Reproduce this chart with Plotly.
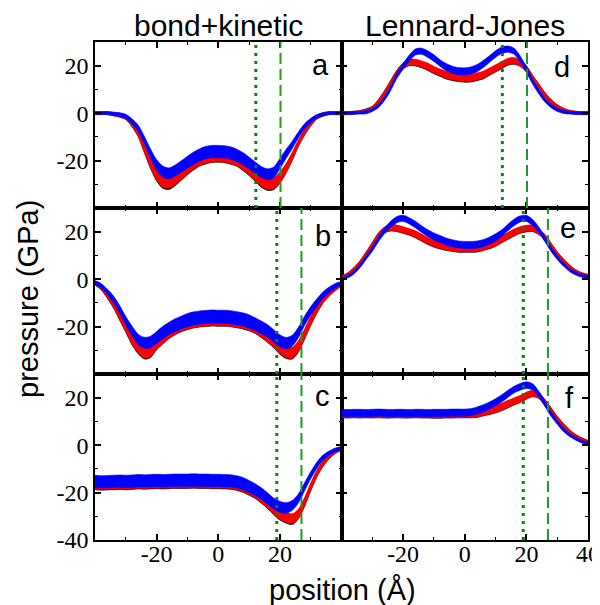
import plotly.graph_objects as go
from plotly.subplots import make_subplots

# position grid (Å)
X = [-40, -38, -36, -34, -32, -30, -28, -26, -24, -22, -20, -18, -16, -14, -12, -10, -8, -6, -4, -2,
     0, 2, 4, 6, 8, 10, 12, 14, 16, 18, 20, 22, 24, 26, 28, 30, 32, 34, 36, 38, 40]

# ---- panel a (bond+kinetic, row 1) ----
A_BLACK = [0, 0, 0, -0.4, -0.9, -1.8, -4.6, -8.6, -15.0, -21.4, -26.4, -29.4, -29.9, -28.3, -25.9, -23.5, -21.4, -19.7, -18.8, -18.2,
           -18.1, -18.3, -18.9, -19.8, -21.6, -23.8, -26.4, -29.0, -30.3, -30.0, -27.4, -23.4, -18.4, -12.8, -8.2, -4.5, -1.7, -0.5, 0, 0, 0]
A_RED = [0, 0, 0, -0.4, -0.9, -1.7, -4.5, -8.5, -14.8, -21.1, -26.0, -28.9, -29.3, -27.9, -25.6, -23.2, -21.1, -19.4, -18.6, -18.0,
         -17.9, -18.1, -18.7, -19.6, -21.3, -23.5, -26.0, -28.5, -29.8, -29.5, -27.0, -23.2, -18.3, -12.7, -8.2, -4.5, -1.7, -0.5, 0, 0, 0]
A_BLUE = [0, 0, 0, -0.3, -0.6, -1.4, -3.5, -6.3, -11.3, -16.9, -21.8, -24.6, -25.4, -24.2, -22.5, -20.7, -19.0, -17.6, -16.6, -16.2,
          -16.2, -16.3, -16.8, -17.8, -19.2, -21.0, -23.0, -24.8, -25.8, -25.0, -21.3, -17.2, -13.4, -9.2, -5.6, -3.1, -1.4, -0.6, 0, 0, 0]
A_NOISE = [0.6, 0.6, 0.6, 0.7, 0.8, 0.9, 1.1, 1.3, 1.6, 1.9, 2.2, 2.3, 2.3, 2.3, 2.4, 2.5, 2.6, 2.6, 2.6, 2.6,
           2.6, 2.6, 2.6, 2.6, 2.6, 2.5, 2.4, 2.3, 2.3, 2.3, 2.2, 1.9, 1.6, 1.3, 1.1, 0.9, 0.8, 0.7, 0.6, 0.6, 0.6]

# ---- panel b (bond+kinetic, row 2) ----
B_BLACK = [-1.7, -3.5, -6.9, -10.8, -15.7, -20.6, -25.7, -29.3, -31.4, -30.7, -27.3, -24.8, -22.5, -20.8, -19.5, -18.5, -17.8, -17.4, -17.2, -17.0,
           -17.1, -17.1, -17.3, -17.7, -18.2, -19.0, -20.2, -22.0, -24.1, -26.3, -29.2, -31.1, -31.4, -28.6, -23.4, -17.8, -12.8, -8.7, -5.9, -3.8, -2.1]
B_RED = [-1.7, -3.5, -6.8, -10.6, -15.5, -20.4, -25.4, -28.9, -31.0, -30.3, -27.0, -24.6, -22.3, -20.6, -19.3, -18.3, -17.6, -17.2, -17.0, -16.8,
         -16.9, -16.9, -17.1, -17.5, -18.0, -18.8, -20.0, -21.8, -23.9, -26.0, -28.9, -30.7, -31.0, -28.2, -23.2, -17.6, -12.7, -8.7, -5.9, -3.8, -2.1]
B_BLUE = [-1.4, -2.8, -5.4, -8.5, -12.7, -17.6, -21.8, -25.4, -26.8, -26.5, -24.6, -22.5, -20.8, -19.4, -18.3, -17.3, -16.6, -16.2, -16.0, -15.8,
          -15.9, -15.9, -16.1, -16.5, -17.0, -17.8, -19.0, -20.4, -21.8, -23.9, -26.0, -27.0, -26.0, -22.5, -17.6, -13.4, -9.9, -6.8, -4.5, -2.8, -1.7]
B_NOISE = [0.8, 1.0, 1.2, 1.4, 1.6, 1.8, 2.0, 2.2, 2.3, 2.4, 2.5, 2.6, 2.6, 2.7, 2.7, 2.8, 2.8, 2.8, 2.8, 2.8,
           2.8, 2.8, 2.8, 2.8, 2.8, 2.8, 2.7, 2.7, 2.6, 2.6, 2.5, 2.4, 2.3, 2.2, 2.0, 1.8, 1.6, 1.4, 1.2, 1.0, 0.8]

# ---- panel c (bond+kinetic, row 3) ----
C_BLACK = [-16.2, -16.4, -16.3, -16.2, -16.1, -16.2, -16.1, -15.9, -16.0, -15.9, -15.8, -15.9, -15.8, -15.7, -15.7, -15.7, -15.6, -15.7, -15.7, -15.8,
           -15.8, -15.9, -16.0, -16.5, -17.3, -18.6, -20.0, -22.1, -24.3, -27.0, -29.3, -30.7, -31.4, -29.2, -24.2, -17.8, -12.1, -7.9, -4.8, -2.7, -1.5]
C_RED = [-15.9, -16.1, -16.0, -15.9, -15.8, -15.9, -15.8, -15.6, -15.7, -15.6, -15.5, -15.6, -15.5, -15.4, -15.4, -15.4, -15.3, -15.4, -15.4, -15.5,
         -15.5, -15.6, -15.7, -16.2, -17.0, -18.3, -19.7, -21.8, -24.0, -26.7, -28.9, -30.3, -31.0, -28.9, -24.0, -17.6, -12.0, -7.8, -4.8, -2.7, -1.5]
C_BLUE = [-15.3, -15.5, -15.4, -15.3, -15.2, -15.3, -15.2, -15.0, -15.1, -15.0, -14.9, -15.0, -14.9, -14.8, -14.8, -14.8, -14.7, -14.8, -14.8, -14.9,
          -14.9, -15.0, -15.1, -15.5, -16.2, -17.4, -18.8, -20.4, -22.5, -24.6, -26.0, -26.5, -25.4, -22.5, -17.6, -12.7, -8.5, -5.3, -3.4, -2.0, -1.3]
C_NOISE = [2.6, 2.6, 2.6, 2.6, 2.6, 2.6, 2.6, 2.6, 2.6, 2.6, 2.6, 2.6, 2.6, 2.6, 2.6, 2.6, 2.6, 2.6, 2.6, 2.6,
           2.6, 2.6, 2.6, 2.6, 2.6, 2.5, 2.5, 2.4, 2.4, 2.3, 2.3, 2.2, 2.1, 1.9, 1.7, 1.5, 1.3, 1.1, 0.9, 0.8, 0.7]

# ---- panel d (Lennard-Jones, row 1) ----
D_BLACK = [0, 0, 0.2, 0.5, 1.1, 2.2, 5.0, 8.7, 12.9, 17.1, 19.9, 21.3, 21.2, 20.4, 19.4, 18.0, 16.9, 15.9, 15.2, 14.8,
           14.5, 14.6, 15.2, 15.9, 17.3, 18.7, 20.1, 21.5, 21.9, 21.0, 18.8, 14.9, 11.4, 7.8, 5.0, 2.9, 1.4, 0.6, 0.2, 0, 0]
D_RED = [0, 0, 0.2, 0.5, 1.0, 2.1, 4.9, 8.5, 12.7, 16.9, 20.0, 21.5, 21.4, 20.7, 19.7, 18.3, 17.2, 16.2, 15.5, 15.1,
         14.8, 14.9, 15.5, 16.2, 17.6, 19.0, 20.4, 21.8, 22.1, 21.1, 18.7, 14.8, 11.3, 7.7, 4.9, 2.8, 1.4, 0.6, 0.2, 0, 0]
D_BLUE = [0, 0, 0.1, 0.2, 0.4, 1.4, 3.1, 6.3, 10.6, 15.8, 19.7, 23.2, 25.8, 26.1, 24.9, 23.2, 21.1, 19.4, 18.3, 17.7,
          17.6, 18.0, 19.0, 20.7, 22.8, 24.9, 26.5, 27.0, 26.1, 22.8, 18.3, 13.4, 9.2, 5.6, 3.1, 1.4, 0.6, 0.2, 0, 0, 0]
D_NOISE = [0.6, 0.6, 0.6, 0.6, 0.7, 0.7, 0.8, 0.9, 1.0, 1.1, 1.2, 1.3, 1.3, 1.3, 1.4, 1.4, 1.4, 1.5, 1.5, 1.5,
           1.5, 1.5, 1.5, 1.5, 1.4, 1.4, 1.4, 1.3, 1.3, 1.3, 1.2, 1.1, 1.0, 0.9, 0.8, 0.7, 0.7, 0.6, 0.6, 0.6, 0.6]

# ---- panel e (Lennard-Jones, row 2) ----
E_BLACK = [0.6, 2.0, 4.1, 6.9, 10.6, 14.5, 18.4, 20.7, 21.6, 21.3, 20.6, 19.8, 18.8, 17.4, 16.0, 15.0, 14.2, 13.6, 13.2, 12.8,
           12.8, 12.8, 12.9, 13.6, 14.3, 15.3, 16.7, 18.1, 19.5, 20.6, 21.2, 21.4, 20.1, 17.7, 14.2, 10.7, 7.8, 5.3, 3.3, 2.1, 1.4]
E_RED = [0.7, 2.1, 4.2, 7.0, 10.6, 14.4, 18.3, 20.8, 21.8, 21.5, 20.8, 20.0, 19.0, 17.6, 16.2, 15.2, 14.4, 13.8, 13.4, 13.0,
         13.0, 13.0, 13.1, 13.8, 14.5, 15.5, 16.9, 18.3, 19.7, 20.8, 21.4, 21.4, 20.0, 17.6, 14.1, 10.6, 7.7, 5.2, 3.2, 2.1, 1.4]
E_BLUE = [0.0, 1.1, 2.8, 5.6, 9.2, 12.7, 16.9, 20.4, 23.2, 25.1, 25.6, 24.6, 23.0, 21.1, 19.4, 18.0, 16.9, 15.8, 15.1, 14.6,
          14.4, 14.4, 14.6, 15.2, 16.2, 17.6, 19.4, 21.8, 23.9, 25.4, 25.6, 23.9, 20.8, 16.9, 12.7, 9.2, 6.3, 3.9, 2.4, 1.4, 1.0]
E_NOISE = [0.6, 0.6, 0.7, 0.8, 0.9, 1.0, 1.1, 1.2, 1.3, 1.3, 1.3, 1.3, 1.4, 1.4, 1.4, 1.5, 1.5, 1.5, 1.5, 1.5,
           1.5, 1.5, 1.5, 1.5, 1.5, 1.5, 1.4, 1.4, 1.4, 1.3, 1.3, 1.3, 1.2, 1.1, 1.0, 0.9, 0.8, 0.7, 0.7, 0.6, 0.6]

# ---- panel f (Lennard-Jones, row 3) ----
F_BLACK = [13.0, 12.9, 13.0, 12.9, 13.0, 12.9, 13.0, 12.9, 12.9, 13.0, 12.9, 12.9, 13.0, 12.9, 12.9, 12.8, 12.8, 12.9, 12.9, 13.0,
           13.0, 13.0, 13.2, 13.8, 14.4, 15.1, 16.0, 17.2, 18.3, 19.4, 20.8, 21.7, 21.0, 18.2, 14.8, 11.3, 8.4, 5.8, 3.9, 2.5, 1.4]
F_RED = [13.2, 13.1, 13.2, 13.1, 13.2, 13.1, 13.2, 13.1, 13.1, 13.2, 13.1, 13.1, 13.2, 13.1, 13.1, 13.0, 13.0, 13.1, 13.1, 13.2,
         13.2, 13.2, 13.4, 14.0, 14.6, 15.3, 16.2, 17.4, 18.5, 19.5, 20.9, 21.8, 20.9, 18.1, 14.6, 11.1, 8.3, 5.7, 3.8, 2.4, 1.3]
F_BLUE = [13.6, 13.5, 13.6, 13.6, 13.5, 13.6, 13.7, 13.6, 13.5, 13.6, 13.6, 13.5, 13.6, 13.6, 13.5, 13.6, 13.6, 13.6, 13.7, 13.7,
          13.7, 13.9, 14.6, 15.5, 16.7, 18.1, 19.7, 21.6, 23.4, 24.6, 25.3, 24.6, 21.6, 17.4, 13.2, 9.7, 6.6, 4.3, 2.7, 1.5, 0.8]
F_NOISE = [1.5, 1.5, 1.5, 1.5, 1.5, 1.5, 1.5, 1.5, 1.5, 1.5, 1.5, 1.5, 1.5, 1.5, 1.5, 1.5, 1.5, 1.5, 1.5, 1.5,
           1.5, 1.5, 1.5, 1.5, 1.5, 1.5, 1.5, 1.5, 1.4, 1.4, 1.4, 1.3, 1.2, 1.1, 1.0, 0.9, 0.8, 0.7, 0.6, 0.6, 0.6]

# vertical reference lines (Å) per row: dotted, dashed
DOTTED_X = [12.2, 19.0, 19.0]
DASHED_X = [20.2, 27.0, 27.0]

COL_TITLES = ["bond+kinetic", "Lennard-Jones"]
PANEL_LETTERS = ["a", "b", "c", "d", "e", "f"]
X_TICKS_LEFT = [-20, 0, 20]
X_TICKS_RIGHT = [-20, 0, 20, 40]
Y_TICKS_TOP = [-20, 0, 20]
Y_TICKS_BOTTOM = [-40, -20, 0, 20]

panels = {
    (1, 1): (A_BLACK, A_RED, A_BLUE, A_NOISE),
    (2, 1): (B_BLACK, B_RED, B_BLUE, B_NOISE),
    (3, 1): (C_BLACK, C_RED, C_BLUE, C_NOISE),
    (1, 2): (D_BLACK, D_RED, D_BLUE, D_NOISE),
    (2, 2): (E_BLACK, E_RED, E_BLUE, E_NOISE),
    (3, 2): (F_BLACK, F_RED, F_BLUE, F_NOISE),
}
COLORS = ["#000000", "#ff0000", "#0000ff"]

fig = make_subplots(rows=3, cols=2, horizontal_spacing=0, vertical_spacing=0)

for (r, c), (bk, rd, bl, noise) in panels.items():
    for color, vals in zip(COLORS, (bk, rd, bl)):
        lo = [v - n for v, n in zip(vals, noise)]
        hi = [v + n for v, n in zip(vals, noise)]
        ln = dict(color=color, width=0.6, shape="spline", smoothing=0.8)
        fig.add_trace(go.Scatter(x=X, y=lo, mode="lines", line=ln, hoverinfo="skip",
                                 showlegend=False), row=r, col=c)
        fig.add_trace(go.Scatter(x=X, y=hi, mode="lines", line=ln, fill="tonexty",
                                 fillcolor=color, hoverinfo="skip", showlegend=False),
                      row=r, col=c)
    fig.add_vline(x=DOTTED_X[r - 1], row=r, col=c,
                  line=dict(color="#008a00", width=3, dash="3px,5px"))
    fig.add_vline(x=DASHED_X[r - 1], row=r, col=c,
                  line=dict(color="#1f9a1f", width=2, dash="11px,5px"))

serif = "Liberation Serif"
for r in range(1, 4):
    for c in range(1, 3):
        xt = X_TICKS_LEFT if c == 1 else X_TICKS_RIGHT
        yt = Y_TICKS_BOTTOM if r == 3 else Y_TICKS_TOP
        fig.update_xaxes(range=[-40, 40], tickmode="array", tickvals=xt,
                         ticktext=[str(v) for v in xt], automargin=False,
                         ticks="inside", ticklen=6, tickwidth=1.5, tickcolor="black",
                         minor=dict(dtick=10, tick0=0, ticks="inside", ticklen=3,
                                    tickwidth=1.2, tickcolor="black"),
                         showline=True, linecolor="black", linewidth=1.5, mirror="allticks",
                         showgrid=False, zeroline=False, showticklabels=(r == 3),
                         ticklabelstandoff=-9, ticklabeloverflow="allow",
                         tickfont=dict(family=serif, size=24, color="black"),
                         row=r, col=c)
        fig.update_yaxes(range=[-40, 30], tickmode="array", tickvals=yt,
                         ticktext=[str(v) for v in yt], automargin=False,
                         ticks="inside", ticklen=6, tickwidth=1.5, tickcolor="black",
                         minor=dict(dtick=10, tick0=0, ticks="inside", ticklen=3,
                                    tickwidth=1.2, tickcolor="black"),
                         showline=True, linecolor="black", linewidth=1.5, mirror="allticks",
                         showgrid=False, zeroline=False, showticklabels=(c == 1),
                         ticklabeloverflow="allow",
                         tickfont=dict(family=serif, size=24, color="black"),
                         row=r, col=c)

sans = "Liberation Sans"
ann = []
for txt, x in zip(COL_TITLES, [0.2515, 0.7505]):
    ann.append(dict(text=txt, x=x, y=1.034, xref="paper", yref="paper", showarrow=False,
                    xanchor="center", yanchor="middle", font=dict(family=sans, size=30, color="black")))
letter_pos = [(0.4574, 0.9548), (0.4625, 0.6104), (0.4619, 0.2892),
              (0.9479, 0.9488), (0.9594, 0.6275), (0.9615, 0.2861)]
for txt, (x, y) in zip(PANEL_LETTERS, letter_pos):
    ann.append(dict(text=txt, x=x, y=y, xref="paper", yref="paper", showarrow=False,
                    xanchor="center", yanchor="middle", font=dict(family=sans, size=29, color="black")))
ann.append(dict(text="pressure (GPa)", x=-0.136, y=0.484, xref="paper", yref="paper",
                showarrow=False, textangle=-90, xanchor="center", yanchor="middle",
                font=dict(family=sans, size=29, color="black")))
ann.append(dict(text="position (Å)", x=0.5018, y=-0.1004, xref="paper", yref="paper",
                showarrow=False, xanchor="center", yanchor="middle",
                font=dict(family=sans, size=29, color="black")))

# page body has an 8px default margin: size the figure so the plot area lands where the reference has it
fig.update_layout(width=592, height=597, margin=dict(l=87, r=12, t=34, b=65, autoexpand=False),
                  font=dict(family=serif, size=24, color="black"),
                  paper_bgcolor="white", plot_bgcolor="white", annotations=ann,
                  showlegend=False)

fig.write_html("out.html")
